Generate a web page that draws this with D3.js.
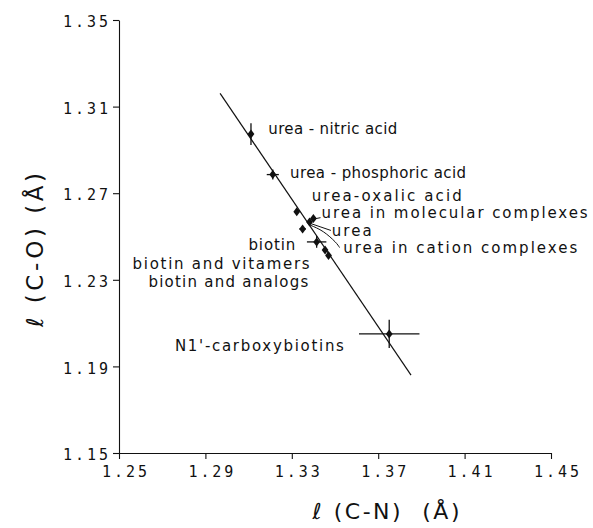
<!DOCTYPE html>
<html>
<head>
<meta charset="utf-8">
<script src="https://cdn.jsdelivr.net/npm/d3@7/dist/d3.min.js"></script>
<style>
  html, body { margin: 0; padding: 0; background: #fff; }
  svg { display: block; }
  text { fill: #111; }
</style>
</head>
<body>
<svg id="chart" width="593" height="528"></svg>
<script>
// ---- data ----
const xTicks = [1.25, 1.29, 1.33, 1.37, 1.41, 1.45];
const yTicks = [1.15, 1.19, 1.23, 1.27, 1.31, 1.35];
const xTickLabels = ["1.25", "1.29", "1.33", "1.37", "1.41", "1.45"];
const yTickLabels = ["1.15", "1.19", "1.23", "1.27", "1.31", "1.35"];

// l(C-N), l(C-O) and error estimates for each group
const cn   = [1.3111, 1.3212, 1.3323, 1.3382, 1.3400, 1.3350, 1.3415, 1.3454, 1.3470, 1.3751];
const co   = [1.2973, 1.2786, 1.2614, 1.2567, 1.2583, 1.2535, 1.2475, 1.2438, 1.2412, 1.2050];
const cnErr = [0, 0.0028, 0, 0, 0, 0.0015, 0.0045, 0, 0, 0.0140];
const coErr = [0.005, 0.0023, 0, 0, 0, 0, 0.0027, 0, 0, 0.0065];

// regression line endpoints
const fitCN = [1.2968, 1.3852];
const fitCO = [1.3161, 1.1860];

const labels = ["urea - nitric acid", "urea - phosphoric acid", "urea-oxalic acid",
  "urea in molecular complexes", "urea", "biotin", "urea in cation complexes",
  "biotin and vitamers", "biotin and analogs", "N1'-carboxybiotins"];
const xTitle = "\u2113 (C-N)  (\u00C5)";
const yTitle = "\u2113 (C-O) (\u00C5)";

// ---- layout ----
const svg = d3.select("#chart");
const x = d3.scaleLinear().domain([1.25, 1.45]).range([119, 551]);
const y = d3.scaleLinear().domain([1.15, 1.35]).range([453, 20]);

// label anchors (data units) and widths
const labelCN = [1.3191, 1.3292, 1.3392, 1.3438, 1.3485, 1.3099, 1.3538, 1.2563, 1.2636, 1.2759];
const labelCO = [1.2973, 1.2770, 1.2664, 1.2587, 1.2501, 1.2436, 1.2422, 1.2348, 1.2268, 1.1971];
const labelW  = [129, 176, 150, 266, 40, 47, 234, 177, 160, 169];

// axes
const yAxis = d3.axisLeft(y).tickValues(yTicks).tickSize(6).tickSizeOuter(0)
  .tickFormat((d, i) => yTickLabels[i]);
const xAxis = d3.axisBottom(x).tickValues(xTicks).tickSize(6).tickSizeOuter(0)
  .tickFormat((d, i) => xTickLabels[i]);

const gy = svg.append("g").attr("transform", `translate(${x(1.25)},0)`).call(yAxis);
const gx = svg.append("g").attr("transform", `translate(0,${y(1.15)})`).call(xAxis);

[gx, gy].forEach(g => {
  g.selectAll("path, line").attr("stroke", "#111").attr("stroke-width", 1.1);
  g.selectAll("text")
    .attr("font-family", "DejaVu Sans Mono, monospace")
    .attr("font-size", 15)
    .attr("fill", "#111")
    .attr("textLength", 45)
    .attr("lengthAdjust", "spacing");
});
gy.selectAll("text").attr("x", -11).attr("dy", "0.45em");
gx.selectAll("text").attr("dx", 5).attr("y", 13).attr("dy", "0.71em");

// axis titles
svg.append("text")
  .attr("x", 386).attr("y", 519)
  .attr("text-anchor", "middle")
  .attr("font-family", "DejaVu Sans, sans-serif")
  .attr("font-size", 22)
  .attr("textLength", 147).attr("lengthAdjust", "spacing")
  .style("white-space", "pre")
  .text(xTitle);

svg.append("text")
  .attr("transform", "translate(43,250) rotate(-90)")
  .attr("text-anchor", "middle")
  .attr("font-family", "DejaVu Sans, sans-serif")
  .attr("font-size", 23)
  .attr("textLength", 154).attr("lengthAdjust", "spacing")
  .style("white-space", "pre")
  .text(yTitle);

// regression line
svg.append("line")
  .attr("x1", x(fitCN[0])).attr("y1", y(fitCO[0]))
  .attr("x2", x(fitCN[1])).attr("y2", y(fitCO[1]))
  .attr("stroke", "#111").attr("stroke-width", 1.2);

// error bars
const pts = cn.map((v, i) => ({cn: v, co: co[i], ex: cnErr[i], ey: coErr[i]}));
const eb = svg.append("g").attr("stroke", "#111").attr("stroke-width", 1.3);
pts.filter(d => d.ex > 0).forEach(d => {
  eb.append("line")
    .attr("x1", x(d.cn - d.ex)).attr("x2", x(d.cn + d.ex))
    .attr("y1", y(d.co)).attr("y2", y(d.co));
});
pts.filter(d => d.ey > 0).forEach(d => {
  eb.append("line")
    .attr("x1", x(d.cn)).attr("x2", x(d.cn))
    .attr("y1", y(d.co - d.ey)).attr("y2", y(d.co + d.ey));
});

// markers (filled diamonds)
svg.append("g").selectAll("path").data(pts).join("path")
  .attr("transform", d => `translate(${x(d.cn)},${y(d.co)})`)
  .attr("d", "M0,-4.5L3.4,0L0,4.5L-3.4,0Z")
  .attr("fill", "#111");

// leader lines (data units)
const leaders = [
  [[1.3403, 1.2581], [1.3433, 1.2587]],
  [[1.3384, 1.2561], [1.3431, 1.2545], [1.3481, 1.2528]],
  [[1.3384, 1.2553], [1.3446, 1.2522], [1.3500, 1.2476], [1.3521, 1.2449]]
];
const lineGen = d3.line().x(d => x(d[0])).y(d => y(d[1])).curve(d3.curveNatural);
svg.append("g").selectAll("path").data(leaders).join("path")
  .attr("d", lineGen)
  .attr("fill", "none").attr("stroke", "#111").attr("stroke-width", 1);

// labels
svg.append("g").selectAll("text").data(labels).join("text")
  .attr("x", (d, i) => x(labelCN[i]))
  .attr("y", (d, i) => y(labelCO[i]))
  .attr("font-family", "DejaVu Sans, sans-serif")
  .attr("font-size", 15)
  .attr("textLength", (d, i) => labelW[i])
  .attr("lengthAdjust", "spacing")
  .style("white-space", "pre")
  .text(d => d);
</script>
</body>
</html>
